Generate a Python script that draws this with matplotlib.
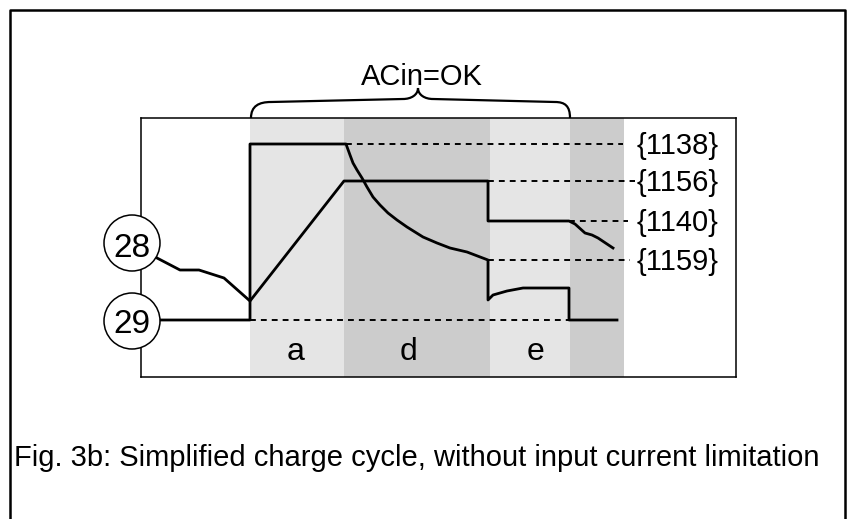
import matplotlib.pyplot as plt
from matplotlib.patches import Circle, PathPatch
from matplotlib.path import Path
from matplotlib.lines import Line2D

plt.rcParams['font.family'] = ['Liberation Sans', 'DejaVu Sans']

# phase bands (time axis, arbitrary units)
band_edges = [109, 203, 349, 429, 483]
band_colors = ['#e5e5e5', '#cccccc', '#e5e5e5', '#cccccc']
phase_names = ['a', 'd', 'e']
phase_x = [155, 267, 394]

# signal 29 (charge current)
t29 = [18, 109, 109, 205, 209, 212, 216, 221, 226, 232, 239, 247, 256, 266, 282, 296,
       309, 326, 347, 347, 352, 366, 382, 428, 428, 476]
v29 = [57, 57, 233, 233, 222, 214, 207, 199, 190, 180, 172, 164, 157, 150, 140, 134,
       129, 125, 117, 77, 82, 86, 89, 89, 57, 57]

# signal 28 (battery voltage)
t28 = [16, 39, 58, 83, 109, 203, 347, 347, 428, 434, 444, 451, 457, 472]
v28 = [119, 107, 107, 99, 76, 196, 196, 156, 156, 153, 144, 142, 139, 129]

# parameter levels and their dashed guide lines
param_names = ['{1138}', '{1156}', '{1140}', '{1159}']
param_level = [233, 196, 156, 117]
param_start = [205, 347, 428, 347]
param_end = [482, 494, 487, 489]
base_level = 57
base_start, base_end = 109, 428

fig = plt.figure(figsize=(8.47, 5.19), dpi=100)
ax = fig.add_axes([141 / 847, 142 / 519, 595 / 847, 259 / 519])
ax.set_xlim(0, 595)
ax.set_ylim(0, 259)
ax.set_xticks([])
ax.set_yticks([])
for s in ax.spines.values():
    s.set_linewidth(1.1)

for i in range(len(band_colors)):
    ax.axvspan(band_edges[i], band_edges[i + 1], color=band_colors[i], lw=0, zorder=0)

for name, x in zip(phase_names, phase_x):
    ax.text(x, 17, name, fontsize=23, ha='center', va='baseline')

dash = dict(color='black', lw=1.4, dashes=(3, 2.6), zorder=2)
for name, lvl, x0, x1 in zip(param_names, param_level, param_start, param_end):
    ax.plot([x0, x1], [lvl, lvl], **dash)
    ax.text(496, lvl - 10, name, fontsize=21, ha='left', va='baseline')
ax.plot([base_start, base_end], [base_level, base_level], **dash)

ax.plot(t29, v29, color='black', lw=2.0, zorder=3, solid_joinstyle='round')
ax.plot(t28, v28, color='black', lw=2.0, zorder=3, solid_joinstyle='round')

# signal markers on the left edge
for num, cy, base in [('28', 134, 120), ('29', 56, 44)]:
    ax.add_patch(Circle((-9, cy), 28, facecolor='white', edgecolor='black',
                        lw=1.1, clip_on=False, zorder=5))
    ax.text(-9, base, num, fontsize=24, ha='center', va='baseline', zorder=6)

# brace over the AC input period
verts = [(110, 259), (110, 271), (118, 275), (130, 275), (262, 278),
         (270, 278), (277, 282), (277, 289),
         (277, 282), (284, 278), (292, 278), (414, 275),
         (424, 275), (429, 271), (429, 259)]
codes = [Path.MOVETO, Path.CURVE4, Path.CURVE4, Path.CURVE4, Path.LINETO,
         Path.CURVE4, Path.CURVE4, Path.CURVE4,
         Path.CURVE4, Path.CURVE4, Path.CURVE4, Path.LINETO,
         Path.CURVE4, Path.CURVE4, Path.CURVE4]
ax.add_patch(PathPatch(Path(verts, codes), fill=False, lw=1.6, clip_on=False))
ax.text(281, 292, 'ACin=OK', fontsize=21, ha='center', va='baseline')

# outer frame (open at the bottom)
fig.add_artist(Line2D([10 / 847, 10 / 847, 845 / 847, 845 / 847],
                      [0, 1 - 10 / 519, 1 - 10 / 519, 0],
                      transform=fig.transFigure, color='black', lw=1.8))

fig.text(14 / 847, 1 - 466 / 519,
         'Fig. 3b: Simplified charge cycle, without input current limitation',
         fontsize=21, ha='left', va='baseline')

fig.savefig('out.png', dpi=100)
